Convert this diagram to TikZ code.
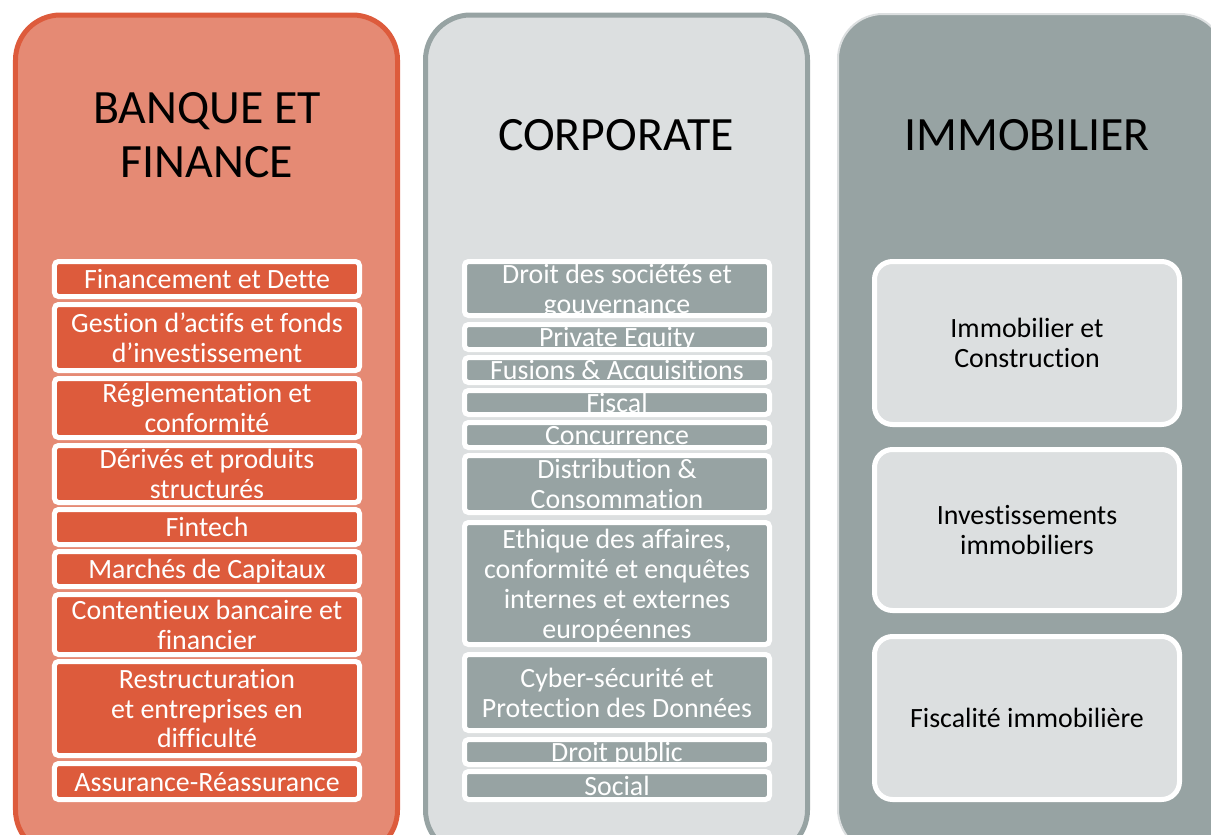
\documentclass[tikz,border=0pt]{standalone}
\usepackage{fontspec}
\setmainfont{Carlito}[Ligatures=NoCommon]
\definecolor{bfdark}{HTML}{DD5B3C}
\definecolor{bflight}{HTML}{E58A74}
\definecolor{cogray}{HTML}{97A3A3}
\definecolor{colight}{HTML}{DCDFE0}

\begin{document}
\begin{tikzpicture}[x=1bp,y=-1bp]

\tikzset{
  panel/.style={rectangle, rounded corners=45bp, minimum width=382bp, minimum height=840bp, inner sep=0pt, anchor=north},
  title/.style={font=\fontsize{48}{54}\selectfont, align=center, text=black},
  bfitem/.style={rectangle, rounded corners=4bp, draw=white, line width=5bp, fill=bfdark, text=white, minimum width=305bp, inner sep=0pt, text depth=0pt, font=\fontsize{28}{30}\selectfont, align=center},
  coitem/.style={bfitem, fill=cogray},
  imitem/.style={bfitem, rounded corners=18bp, fill=colight, text=black}
}

\useasboundingbox (0,0) rectangle (1211,835);
\clip (0,0) rectangle (1211,835);

\node[panel, draw=bfdark, line width=5bp, fill=bflight] (Bf) at (206.5,12.5) {};
\node[panel, draw=cogray, line width=5bp, fill=colight] (Co) at (616.5,12.5) {};
\node[panel, draw=colight, line width=2bp, fill=cogray, minimum width=387bp] (Im) at (1031.5,13) {};

\node[title] (Bf_t) at (207,135) {BANQUE ET\\FINANCE};
\node[title] (Co_t) at (616,135) {CORPORATE};
\node[title] (Im_t) at (1027,135) {IMMOBILIER};

\node[bfitem, minimum height=35bp] (Bf_1) at (207,279) {Financement et Dette};
\node[bfitem, minimum height=66bp] (Bf_2) at (207,337.5) {Gestion d’actifs et fonds\\d’investissement};
\node[bfitem, minimum height=59bp] (Bf_3) at (207,408) {Réglementation et\\conformité};
\node[bfitem, minimum height=57bp] (Bf_4) at (207,474) {Dérivés et produits\\structurés};
\node[bfitem, minimum height=35bp] (Bf_5) at (207,527) {Fintech};
\node[bfitem, minimum height=35bp] (Bf_6) at (207,569) {Marchés de Capitaux};
\node[bfitem, minimum height=60bp] (Bf_7) at (207,624.5) {Contentieux bancaire et\\financier};
\node[bfitem, minimum height=94bp] (Bf_8) at (207,708.5) {Restructuration\\et entreprises en\\difficulté};
\node[bfitem, minimum height=36bp] (Bf_9) at (207,781.5) {Assurance-Réassurance};

\node[coitem, minimum height=54bp] (Co_1) at (617,288.5) {Droit des sociétés et\\gouvernance};
\node[coitem, minimum height=25bp] (Co_2) at (617,337) {Private Equity};
\node[coitem, minimum height=25bp] (Co_3) at (617,370) {Fusions \& Acquisitions};
\node[coitem, minimum height=24bp] (Co_4) at (617,402.5) {Fiscal};
\node[coitem, minimum height=25bp] (Co_5) at (617,435) {Concurrence};
\node[coitem, minimum height=57bp] (Co_6) at (617,484) {Distribution \&\\Consommation};
\node[coitem, minimum height=122bp] (Co_7) at (617,583.5) {Ethique des affaires,\\conformité et enquêtes\\internes et externes\\européennes};
\node[coitem, minimum height=76bp] (Co_8) at (617,692.5) {Cyber-sécurité et\\Protection des Données};
\node[coitem, minimum height=25bp] (Co_9) at (617,752) {Droit public};
\node[coitem, minimum height=28bp] (Co_10) at (617,785.5) {Social};

\node[imitem, minimum height=163bp] (Im_1) at (1027,343) {Immobilier et\\Construction};
\node[imitem, minimum height=161bp] (Im_2) at (1027,530) {Investissements\\immobiliers};
\node[imitem, minimum height=163bp] (Im_3) at (1027,718) {Fiscalité immobilière};

\end{tikzpicture}
\end{document}
